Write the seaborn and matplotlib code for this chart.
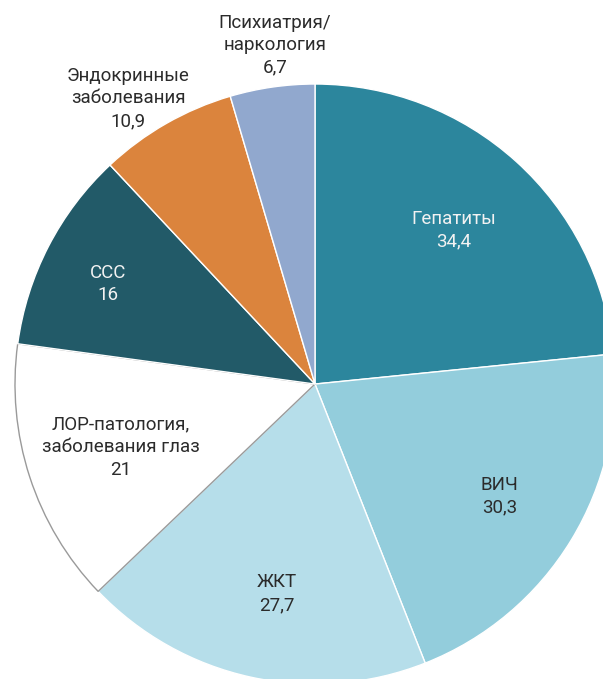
import numpy as np
import matplotlib.pyplot as plt
import seaborn as sns

labels = ['Гепатиты', 'ВИЧ', 'ЖКТ', 'ЛОР-патология,\nзаболевания глаз', 'ССС',
          'Эндокринные\nзаболевания', 'Психиатрия/\nнаркология']
values = [34.4, 30.3, 27.7, 21, 16, 10.9, 6.7]
value_text = ['34,4', '30,3', '27,7', '21', '16', '10,9', '6,7']

colors = ['#2C869D', '#93CDDC', '#B6DEEA', '#FFFFFF', '#225A68', '#DB843D', '#91A8CE']
text_colors = ['#F2F2F2', '#2B2B2B', '#2B2B2B', '#2B2B2B', '#F2F2F2', '#2B2B2B', '#2B2B2B']
label_radius = [0.69, 0.72, 0.71, 0.68, 0.765, 1.137, 1.137]
label_shift = [0, 0, 2, 0, 1.5, 3.4, -1.5]  # degrees off the slice middle

sns.set_theme(style="white")
plt.rcParams['font.family'] = ['Roboto', 'DejaVu Sans']

fig = plt.figure(figsize=(6.03, 6.79), dpi=100)
ax = fig.add_axes([0, 0, 1, 1])

wedges, _ = ax.pie(values, colors=colors, startangle=90, counterclock=False, radius=1.0,
                   wedgeprops=dict(edgecolor='white', linewidth=1.0))
# the white slice gets a grey outline
wedges[3].set_edgecolor('#9A9A9A')
wedges[3].set_linewidth(1.0)

for w, lab, val, tc, r, sh in zip(wedges, labels, value_text, text_colors, label_radius, label_shift):
    mid = np.deg2rad((w.theta1 + w.theta2) / 2 + sh)
    ax.text(r * np.cos(mid), r * np.sin(mid), f'{lab}\n{val}', ha='center', va='center',
            color=tc, fontsize=13.5, linespacing=1.33)

ax.set_xlim(-1.05, 0.96)
ax.set_ylim(-0.983, 1.28)
ax.set_aspect('auto')
ax.axis('off')

fig.savefig('out.png', dpi=100, facecolor='white')
